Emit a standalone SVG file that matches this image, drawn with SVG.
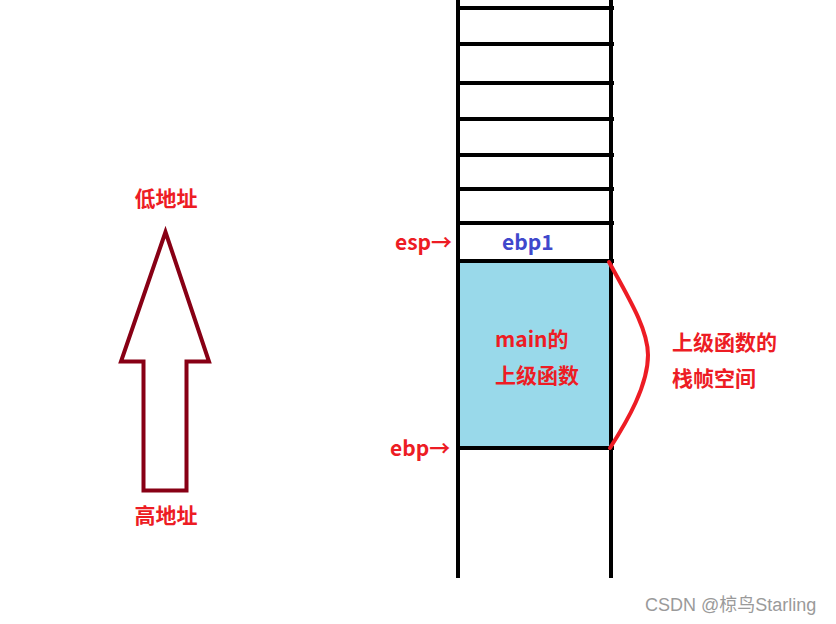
<svg xmlns="http://www.w3.org/2000/svg" width="836" height="624" viewBox="0 0 836 624">
<style>
.lbl{font-family:"Noto Sans CJK SC","Microsoft YaHei",sans-serif;font-weight:bold;font-size:21px;fill:#ED1C24}
.blue{fill:#3F48CC}
.wm{font-family:"Liberation Sans","Noto Sans CJK SC",sans-serif;font-size:18px;fill:#9a9a9a}
.ln{stroke:#000;stroke-width:4;fill:none}
</style>
<rect width="836" height="624" fill="#fff"/>
<g id="arrow">
<polygon points="165.5,232 121,361.5 143.5,361.5 143.5,490.5 186.5,490.5 186.5,361.5 209,361.5" fill="none" stroke="#880015" stroke-width="4" stroke-linejoin="miter"/>
<text class="lbl" x="166" y="206" text-anchor="middle">低地址</text>
<text class="lbl" x="166" y="523" text-anchor="middle">高地址</text>
</g>
<g id="stack">
<rect x="460" y="262" width="150" height="185" fill="#99D9EA"/>
<line class="ln" x1="458" y1="0" x2="458" y2="578"/>
<line class="ln" x1="611" y1="0" x2="611" y2="578"/>
<line class="ln" x1="456" y1="8" x2="614" y2="8"/>
<line class="ln" x1="456" y1="44" x2="614" y2="44"/>
<line class="ln" x1="456" y1="83" x2="614" y2="83"/>
<line class="ln" x1="456" y1="119" x2="614" y2="119"/>
<line class="ln" x1="456" y1="155" x2="614" y2="155"/>
<line class="ln" x1="456" y1="189" x2="614" y2="189"/>
<line class="ln" x1="456" y1="223" x2="614" y2="223"/>
<line class="ln" x1="456" y1="261" x2="614" y2="261"/>
<line class="ln" x1="456" y1="448" x2="614" y2="448"/>
</g>
<g id="labels">
<text class="lbl" x="395" y="250">esp→</text>
<text class="lbl blue" x="502" y="250">ebp1</text>
<text class="lbl" x="390" y="456">ebp→</text>
<text class="lbl" x="495" y="347">main的</text>
<text class="lbl" x="495" y="383">上级函数</text>
</g>
<g id="brace">
<path d="M609,262 C630,300 648,330 648,355 C648,385 628,420 610,448" fill="none" stroke="#ED1C24" stroke-width="4" stroke-linecap="round"/>
<text class="lbl" x="672" y="350">上级函数的</text>
<text class="lbl" x="672" y="386">栈帧空间</text>
</g>
<text class="wm" x="645" y="611">CSDN @椋鸟Starling</text>
</svg>
